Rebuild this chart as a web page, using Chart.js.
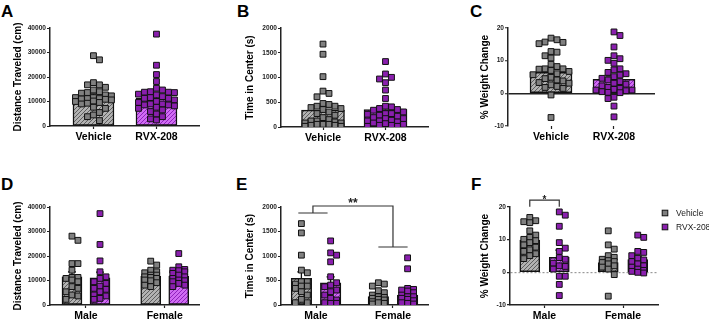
<!DOCTYPE html>
<html><head><meta charset="utf-8">
<script src="https://cdn.jsdelivr.net/npm/chart.js@4/dist/chart.umd.min.js"></script>
<style>
html,body{margin:0;padding:0;background:#fff;overflow:hidden;width:709px;height:322px;position:relative;}
canvas{position:absolute;}
.lbl{position:absolute;font:bold 17px/17px "Liberation Sans",Arial,sans-serif;color:#000;}
</style></head><body>
<div class="lbl" style="left:1px;top:3px">A</div>
<div class="lbl" style="left:237px;top:3px">B</div>
<div class="lbl" style="left:470px;top:3px">C</div>
<div class="lbl" style="left:1px;top:176px">D</div>
<div class="lbl" style="left:236px;top:176px">E</div>
<div class="lbl" style="left:471px;top:176px">F</div>
<canvas id="cA" width="235" height="160" style="left:0px;top:0px"></canvas>
<canvas id="cB" width="235" height="160" style="left:235px;top:0px"></canvas>
<canvas id="cC" width="239" height="160" style="left:470px;top:0px"></canvas>
<canvas id="cD" width="235" height="162" style="left:0px;top:160px"></canvas>
<canvas id="cE" width="235" height="162" style="left:235px;top:160px"></canvas>
<canvas id="cF" width="239" height="162" style="left:470px;top:160px"></canvas>
<script>
// ---------- DATA ----------
const treatments = ['Vehicle', 'RVX-208'];
const sexes = ['Male', 'Female'];

// A: distance traveled (cm)
const distVehicle = [28700, 27000, 17700, 16800, 16800, 15800, 14700, 14000, 13650, 13400, 12300, 11600, 11200, 10900, 11200, 11050, 11600, 10650, 10200, 10000, 9300, 9000, 7650, 7200, 5500, 4500, 3800, 2200, 9600, 12700];
const distRvx = [37500, 24800, 21000, 18150, 15400, 14700, 14000, 13800, 13650, 13800, 13000, 12700, 12000, 11600, 11300, 10650, 10000, 9600, 9000, 8600, 8600, 8200, 7650, 7200, 6550, 5900, 4900, 3800, 2900, 2450, 11300, 9000];
const distMeans = [12000, 11300];
const distSems = [1150, 1200];

// B: time in center (s)
const timeVehicle = [1675, 1470, 1017, 725, 678, 610, 475, 455, 420, 420, 393, 373, 353, 305, 271, 237, 190, 150, 122, 102, 81, 54, 54, 54, 34, 34, 14, 14, 81, 122];
const timeRvx = [1322, 1071, 1003, 970, 895, 746, 576, 420, 407, 373, 353, 339, 305, 271, 258, 237, 217, 190, 170, 170, 136, 122, 102, 81, 68, 54, 34, 14, 14, 34, 122, 271];
const timeMeans = [340, 352];
const timeSems = [80, 68];

// C: % weight change
const wtVehicle = [16.9, 16.4, 15.7, 15.6, 15.2, 12.8, 12.6, 11.5, 10.8, 8.9, 8.2, 7.5, 7.5, 7.4, 7.0, 6.7, 6.0, 5.7, 4.9, 4.5, 4.1, 3.8, 3.3, 3.1, 2.6, 2.1, 1.8, 1.5, -0.5, -7.4];
const wtRvx = [18.8, 17.7, 14.2, 11.5, 10.6, 10.1, 9.2, 7.2, 7.5, 6.4, 6.0, 5.6, 5.1, 4.6, 4.1, 3.6, 3.1, 2.8, 2.3, 1.8, 1.5, 1.2, 1.0, 0.8, 0.5, 0.3, 0.2, -1.2, -1.6, -3.9, -7.2, 1.0];
const wtMeans = [6.4, 4.3];
const wtSems = [1.0, 1.0];

// D: distance by sex
const distMaleVehicle = [28100, 26400, 16900, 16900, 14200, 11250, 10850, 11250, 9500, 7500, 6800, 5400, 4100, 3700, 2300, 10200];
const distMaleRvx = [37300, 24700, 18000, 13550, 11500, 10850, 8800, 7700, 6800, 6400, 5400, 4100, 3700, 2300, 2700, 9500];
const distFemaleVehicle = [17900, 16300, 14200, 13550, 13150, 12200, 11500, 11250, 10850, 10200, 9900, 9100, 8100, 7500, 12200];
const distFemaleRvx = [21000, 15600, 14500, 14200, 14000, 12900, 12200, 11500, 10850, 10200, 9900, 9500, 8800, 8100, 7500, 13550];
const distSexVehicleMeans = [11500, 11700];
const distSexVehicleSems = [2000, 900];
const distSexRvxMeans = [11100, 11800];
const distSexRvxSems = [2300, 900];

// E: time in center by sex
const timeMaleVehicle = [1661, 1471, 1017, 712, 658, 475, 475, 386, 386, 339, 271, 203, 115, 47, 47, 427];
const timeMaleRvx = [1308, 1064, 1017, 881, 576, 454, 407, 373, 305, 271, 203, 136, 102, 47, 34, 34];
const timeFemaleVehicle = [454, 427, 386, 292, 251, 203, 169, 156, 115, 102, 68, 47, 20, 34, 136];
const timeFemaleRvx = [963, 739, 339, 319, 305, 285, 251, 203, 169, 136, 115, 88, 47, 34, 20, 169];
const timeSexVehicleMeans = [542, 170];
const timeSexVehicleSems = [135, 75];
const timeSexRvxMeans = [454, 203];
const timeSexRvxSems = [120, 95];

// F: weight change by sex
const wtMaleVehicle = [16.8, 15.8, 15.5, 15.2, 12.7, 11.4, 10.7, 10.1, 9.7, 9.1, 8.4, 7.7, 6.9, 6.4, 5.7, 5.1, 4.2];
const wtMaleRvx = [18.5, 17.5, 14.1, 9.1, 7.4, 6.4, 4.5, 4.0, 2.8, 2.0, 1.0, -1.2, -1.2, -3.7, -7.1, 1.8];
const wtFemaleVehicle = [12.7, 8.4, 7.1, 5.1, 4.6, 4.0, 3.6, 3.0, 2.6, 2.0, 1.6, 1.0, -0.7, -7.3, 3.3];
const wtFemaleRvx = [11.4, 10.7, 6.4, 6.1, 5.1, 4.3, 3.8, 3.3, 2.6, 2.0, 1.6, 1.0, 0.6, 0.3, 0.0, -0.2];
const wtSexVehicleMeans = [9.9, 3.0];
const wtSexVehicleSems = [1.0, 0.9];
const wtSexRvxMeans = [4.6, 3.9];
const wtSexRvxSems = [2.2, 1.0];

// ---------- RENDERING ----------
const FONT = '"Liberation Sans", Arial, Helvetica, sans-serif';
Chart.defaults.font.family = FONT;
Chart.defaults.color = '#222';

const GRAY_PT = '#808080', PURP_PT = '#8a1fae';

function hatch(ctx, base, line) {
  const c = document.createElement('canvas'); c.width = 4; c.height = 4;
  const g = c.getContext('2d');
  g.fillStyle = base; g.fillRect(0, 0, 4, 4);
  g.strokeStyle = line; g.lineWidth = 1;
  g.beginPath();
  g.moveTo(0, 4); g.lineTo(4, 0);
  g.moveTo(-1, 1); g.lineTo(1, -1);
  g.moveTo(3, 5); g.lineTo(5, 3);
  g.stroke();
  return ctx.createPattern(c, 'repeat');
}

function swarm(vals, cx, pxX, pxY, s, maxHalf) {
  const idx = vals.map((_, i) => i).sort((a, b) => vals[b] - vals[a]);
  const cands = [0];
  for (let k = 1; k * s <= maxHalf + 0.01; k++) cands.push(k * s, -k * s);
  const placed = [], out = [];
  for (const i of idx) {
    const py = vals[i] * pxY;
    let best = 0, bestScore = Infinity;
    for (const dx of cands) {
      let score = 0;
      for (const p of placed) {
        const ox = s - Math.abs(p.dx - dx), oy = s - Math.abs(p.py - py);
        if (ox > 0.01 && oy > 0.01) score += ox * oy;
      }
      if (score < bestScore - 1e-9) { bestScore = score; best = dx; }
      if (score === 0) break;
    }
    placed.push({ dx: best, py });
    out.push({ x: cx + best / pxX, y: vals[i] });
  }
  return out;
}

const errPlugin = {
  id: 'errbars',
  afterDatasetDraw(chart, args) {
    const ds = chart.data.datasets[args.index];
    if (!ds.sems) return;
    const y = chart.scales.y, ctx = chart.ctx;
    ctx.save();
    ctx.strokeStyle = '#111'; ctx.lineWidth = 1.3;
    args.meta.data.forEach((bar, i) => {
      const m = ds.data[i].y;
      const top = y.getPixelForValue(m + ds.sems[i]);
      const base = y.getPixelForValue(m);
      const half = Math.max(3, bar.width * 0.2);
      ctx.beginPath();
      ctx.moveTo(bar.x, base); ctx.lineTo(bar.x, top);
      ctx.moveTo(bar.x - half, top); ctx.lineTo(bar.x + half, top);
      ctx.stroke();
    });
    ctx.restore();
  }
};

function buildPanel(P) {
  const cv = document.getElementById(P.id);
  const ctx = cv.getContext('2d');
  const grayPat = hatch(ctx, '#b2b2b2', '#5e5e5e');
  const purpPat = hatch(ctx, '#d06cf3', '#8f22bd');

  const extra = {
    id: 'extra' + P.id,
    afterDraw(chart) {
      const c = chart.ctx, x = chart.scales.x, y = chart.scales.y, ca = chart.chartArea;
      c.save();
      (P.brackets || []).forEach(b => {
        const X1 = x.getPixelForValue(b.x1), X2 = x.getPixelForValue(b.x2);
        const YT = y.getPixelForValue(b.yTop), YL = y.getPixelForValue(b.yLeft), YR = y.getPixelForValue(b.yRight);
        c.strokeStyle = '#333'; c.lineWidth = 1.2;
        c.beginPath();
        c.moveTo(X1, YL); c.lineTo(X1, YT); c.lineTo(X2, YT); c.lineTo(X2, YR);
        if (b.foot) {
          c.moveTo(x.getPixelForValue(b.x1 - b.foot), YL); c.lineTo(x.getPixelForValue(b.x1 + b.foot), YL);
          c.moveTo(x.getPixelForValue(b.x2 - b.foot), YR); c.lineTo(x.getPixelForValue(b.x2 + b.foot), YR);
        }
        c.stroke();
        c.fillStyle = '#222'; c.font = 'bold ' + b.size + 'px ' + FONT;
        c.textAlign = 'center'; c.textBaseline = 'alphabetic';
        c.fillText(b.text, (X1 + X2) / 2, YT + b.dy);
      });
      if (P.legend) {
        const items = chart.data.datasets.filter(d => d.type === 'scatter');
        items.forEach((d, i) => {
          const cy = ca.top + 6 + i * 14, cx = ca.right + 7;
          c.fillStyle = d.backgroundColor; c.strokeStyle = '#111'; c.lineWidth = 1;
          c.fillRect(cx - 2.8, cy - 2.8, 5.6, 5.6); c.strokeRect(cx - 2.8, cy - 2.8, 5.6, 5.6);
          c.fillStyle = '#222'; c.font = '8.5px ' + FONT;
          c.textAlign = 'left'; c.textBaseline = 'middle';
          c.fillText(d.label, ca.right + 18, cy + 0.5);
        });
      }
      c.restore();
    }
  };

  const chart = new Chart(ctx, {
    type: 'bar',
    data: {
      datasets: [
        { type: 'bar', label: treatments[0], data: P.vehX.map((x, i) => ({ x, y: P.vehMeans[i] })), sems: P.vehSems,
          backgroundColor: grayPat, borderColor: '#111', borderWidth: 1.5, borderSkipped: false,
          grouped: false, barThickness: P.barW, maxBarThickness: P.barW, order: 2 },
        { type: 'bar', label: treatments[1], data: P.rvxX.map((x, i) => ({ x, y: P.rvxMeans[i] })), sems: P.rvxSems,
          backgroundColor: purpPat, borderColor: '#111', borderWidth: 1.5, borderSkipped: false,
          grouped: false, barThickness: P.barW, maxBarThickness: P.barW, order: 2 },
        { type: 'scatter', label: treatments[0], data: [], pointStyle: 'rect', pointRadius: 4.1,
          backgroundColor: GRAY_PT, borderColor: '#111', borderWidth: 1, order: 1 },
        { type: 'scatter', label: treatments[1], data: [], pointStyle: 'rect', pointRadius: 4.1,
          backgroundColor: PURP_PT, borderColor: '#111', borderWidth: 1, order: 1 }
      ]
    },
    options: {
      responsive: false, animation: false, devicePixelRatio: 1,
      layout: { autoPadding: false, padding: { left: 0, right: P.padR, top: P.padT, bottom: 0 } },
      plugins: { legend: { display: false }, tooltip: { enabled: false } },
      scales: {
        x: {
          type: 'linear', min: P.xMin, max: P.xMax, offset: false,
          afterBuildTicks: s => { s.ticks = P.xLabels.map((_, i) => ({ value: i })); },
          afterFit: s => { s.height = P.xH; s.paddingLeft = 0; s.paddingRight = 0; },
          ticks: { callback: (v, i) => P.xLabels[i], autoSkip: false, maxRotation: 0, minRotation: 0, padding: 2,
                   color: '#000', font: { size: 10.5, weight: 'bold' } },
          grid: { offset: false, drawOnChartArea: false, drawTicks: true, tickLength: 3, tickColor: '#222', tickWidth: 1.2 },
          border: { display: P.xBorder, color: '#222', width: 1.5 }
        },
        y: {
          min: P.yMin, max: P.yMax,
          afterFit: s => { s.width = P.yW; s.paddingTop = 0; s.paddingBottom = 0; },
          ticks: { stepSize: P.yStep, padding: 1, color: '#222', font: { size: 6.6, weight: 'bold' },
                   callback: v => String(v) },
          grid: {
            drawOnChartArea: !!P.zero,
            color: c => (P.zero && c.tick && c.tick.value === 0) ? P.zero.color : 'rgba(0,0,0,0)',
            lineWidth: P.zero ? P.zero.width : 1,
            drawTicks: true, tickLength: 3, tickColor: '#222', tickWidth: 1.2
          },
          border: { display: true, color: '#222', width: 1.5, dash: P.zero ? P.zero.dash : [] },
          title: { display: true, text: P.yTitle, color: '#000', font: { size: 10, weight: 'bold' },
                   padding: { top: P.titlePad, bottom: 0 } }
        }
      }
    },
    plugins: [errPlugin, extra]
  });

  // place individual points (beeswarm) using the chart's own scales
  const xs = chart.scales.x, ys = chart.scales.y;
  const pxX = Math.abs(xs.getPixelForValue(1) - xs.getPixelForValue(0));
  const pxY = Math.abs(ys.getPixelForValue(1) - ys.getPixelForValue(0));
  const s = 6.0, maxHalf = P.barW / 2 - 1.5;
  chart.data.datasets[2].data = [].concat(...P.vehPts.map((v, i) => swarm(v, P.vehX[i], pxX, pxY, s, maxHalf)));
  chart.data.datasets[3].data = [].concat(...P.rvxPts.map((v, i) => swarm(v, P.rvxX[i], pxX, pxY, s, maxHalf)));
  chart.update('none');
  return chart;
}

const offD = 0.178, offE = 0.19, offF = 0.188;

buildPanel({ id: 'cA', yTitle: 'Distance Traveled (cm)', yMin: 0, yMax: 40000, yStep: 10000,
  yW: 50, titlePad: 12, padR: 36, padT: 28, xH: 34, xMin: -0.69, xMax: 1.675, barW: 41,
  xLabels: treatments, xBorder: true,
  vehX: [0], rvxX: [1], vehPts: [distVehicle], rvxPts: [distRvx],
  vehMeans: [distMeans[0]], vehSems: [distSems[0]], rvxMeans: [distMeans[1]], rvxSems: [distSems[1]] });

buildPanel({ id: 'cB', yTitle: 'Time in Center (s)', yMin: 0, yMax: 2000, yStep: 500,
  yW: 46, titlePad: 9, padR: 42, padT: 28, xH: 33, xMin: -0.672, xMax: 1.68, barW: 43,
  xLabels: treatments, xBorder: true,
  vehX: [0], rvxX: [1], vehPts: [timeVehicle], rvxPts: [timeRvx],
  vehMeans: [timeMeans[0]], vehSems: [timeSems[0]], rvxMeans: [timeMeans[1]], rvxSems: [timeSems[1]] });

buildPanel({ id: 'cC', yTitle: '% Weight Change', yMin: -10, yMax: 20, yStep: 10,
  yW: 38, titlePad: 9, padR: 54, padT: 28, xH: 34, xMin: -0.683, xMax: 1.651, barW: 42,
  xLabels: treatments, xBorder: false, zero: { color: '#222', width: 1.5, dash: [] },
  vehX: [0], rvxX: [1], vehPts: [wtVehicle], rvxPts: [wtRvx],
  vehMeans: [wtMeans[0]], vehSems: [wtSems[0]], rvxMeans: [wtMeans[1]], rvxSems: [wtSems[1]] });

buildPanel({ id: 'cD', yTitle: 'Distance Traveled (cm)', yMin: 0, yMax: 40000, yStep: 10000,
  yW: 50, titlePad: 12, padR: 36, padT: 47, xH: 17, xMin: -0.457, xMax: 1.435, barW: 20,
  xLabels: sexes, xBorder: true,
  vehX: [-offD, 1 - offD], rvxX: [offD, 1 + offD],
  vehPts: [distMaleVehicle, distFemaleVehicle], rvxPts: [distMaleRvx, distFemaleRvx],
  vehMeans: distSexVehicleMeans, vehSems: distSexVehicleSems, rvxMeans: distSexRvxMeans, rvxSems: distSexRvxSems });

buildPanel({ id: 'cE', yTitle: 'Time in Center (s)', yMin: 0, yMax: 2000, yStep: 500,
  yW: 46, titlePad: 9, padR: 42, padT: 47, xH: 17, xMin: -0.455, xMax: 1.455, barW: 20.5,
  xLabels: sexes, xBorder: true,
  vehX: [-offE, 1 - offE], rvxX: [offE, 1 + offE],
  vehPts: [timeMaleVehicle, timeFemaleVehicle], rvxPts: [timeMaleRvx, timeFemaleRvx],
  vehMeans: timeSexVehicleMeans, vehSems: timeSexVehicleSems, rvxMeans: timeSexRvxMeans, rvxSems: timeSexRvxSems,
  brackets: [{ x1: -0.04, x2: 1, yTop: 2020, yLeft: 1878, yRight: 1184, foot: offE, text: '**', size: 12, dy: 1 }] });

buildPanel({ id: 'cF', yTitle: '% Weight Change', yMin: -10, yMax: 20, yStep: 10,
  yW: 40, titlePad: 9, padR: 51, padT: 47, xH: 17, xMin: -0.44, xMax: 1.446, barW: 20,
  xLabels: sexes, xBorder: true, zero: { color: '#9a9a9a', width: 1.2, dash: [2, 2] }, legend: true,
  vehX: [-offF, 1 - offF], rvxX: [offF, 1 + offF],
  vehPts: [wtMaleVehicle, wtFemaleVehicle], rvxPts: [wtMaleRvx, wtFemaleRvx],
  vehMeans: wtSexVehicleMeans, vehSems: wtSexVehicleSems, rvxMeans: wtSexRvxMeans, rvxSems: wtSexRvxSems,
  brackets: [{ x1: -offF, x2: offF, yTop: 22.1, yLeft: 20.1, yRight: 20.1, foot: 0, text: '*', size: 10, dy: 2.5 }] });
</script>
</body></html>
